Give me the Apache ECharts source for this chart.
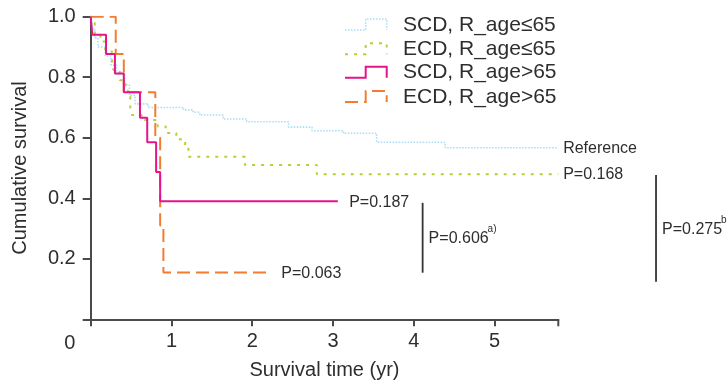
<!DOCTYPE html>
<html>
<head>
<meta charset="utf-8">
<script src="https://cdn.jsdelivr.net/npm/echarts@6/dist/echarts.min.js"></script>
<style>
html,body{margin:0;padding:0;background:#fff;}
#chart{width:728px;height:387px;}
</style>
</head>
<body>
<div id="chart"></div>
<script>
// ---- Data ----
const seriesNames = ['SCD, R_age\u226465', 'ECD, R_age\u226465', 'SCD, R_age>65', 'ECD, R_age>65'];

const scdYoungT = [0, 0.02, 0.05, 0.09, 0.18, 0.25, 0.32, 0.42, 0.48, 0.55, 0.71, 1.15, 1.27, 1.35, 1.64, 1.93, 2.45, 2.74, 3.13, 3.54, 4.39, 5.78];
const scdYoungS = [1.0, 0.96, 0.93, 0.90, 0.87, 0.84, 0.81, 0.775, 0.74, 0.712, 0.70, 0.692, 0.684, 0.675, 0.662, 0.653, 0.635, 0.623, 0.615, 0.585, 0.567, 0.567];

const ecdYoungT = [0, 0.01, 0.05, 0.12, 0.18, 0.26, 0.28, 0.36, 0.43, 0.46, 0.49, 0.51, 0.63, 0.83, 0.93, 1.06, 1.17, 1.21, 1.91, 2.80, 5.79];
const ecdYoungS = [1.0, 0.98, 0.94, 0.918, 0.89, 0.864, 0.824, 0.79, 0.768, 0.736, 0.698, 0.675, 0.659, 0.637, 0.616, 0.595, 0.576, 0.537, 0.51, 0.479, 0.479];

const scdOldT = [0, 0.02, 0.19, 0.30, 0.41, 0.61, 0.70, 0.81, 0.86, 3.06];
const scdOldS = [1.0, 0.94, 0.877, 0.812, 0.75, 0.666, 0.585, 0.487, 0.39, 0.39];

const ecdOldT = [0, 0.31, 0.41, 0.80, 0.86, 0.90, 2.21];
const ecdOldS = [1.0, 0.877, 0.75, 0.60, 0.31, 0.155, 0.155];

const xTicks = [0, 1, 2, 3, 4, 5];
const yTicks = [0, 0.2, 0.4, 0.6, 0.8, 1.0];
const xMax = 5.79;

// annotation texts with anchor in data coordinates
const endLabels = [
  {text: 'Reference', x: 5.85, y: 0.565},
  {text: 'P=0.168', x: 5.85, y: 0.477},
  {text: 'P=0.187', x: 3.20, y: 0.385},
  {text: 'P=0.063', x: 2.36, y: 0.15}
];
const bracketLabels = [
  {text: 'P=0.606', sup: 'a)', x: 4.11, y1: 0.385, y2: 0.154, ty: 0.268},
  {text: 'P=0.275', sup: 'b', x: 7.0, y1: 0.477, y2: 0.124, ty: 0.298}
];

// ---- Styles ----
const colors = ['#a9dcf6', '#b3d236', '#e6138a', '#f27d30'];
const dashes = [[1.5, 1.5], [3, 6], 'solid', [13, 6]];
const widths = [1.6, 2, 2, 2];
const FONT = '"Liberation Sans", Arial, Helvetica, sans-serif';
const TXT = '#2e2e2e';
const AX = '#4a4a4a';

function pairs(t, s) { return t.map((v, i) => [v, s[i]]); }
const allData = [pairs(scdYoungT, scdYoungS), pairs(ecdYoungT, ecdYoungS), pairs(scdOldT, scdOldS), pairs(ecdOldT, ecdOldS)];

const chart = echarts.init(document.getElementById('chart'), null, {renderer: 'canvas'});

const option = {
  animation: false,
  backgroundColor: '#fff',
  grid: {left: 90.7, right: 169.7, top: 16.7, bottom: 67.7, containLabel: false},
  xAxis: {
    type: 'value', min: 0, max: xMax, interval: 1,
    name: 'Survival time (yr)', nameLocation: 'middle', nameGap: 41,
    nameTextStyle: {fontFamily: FONT, fontSize: 20, color: TXT},
    axisLine: {show: true, lineStyle: {color: AX, width: 2}},
    axisTick: {show: true, length: 7, lineStyle: {color: AX, width: 2}},
    axisLabel: {
      fontFamily: FONT, fontSize: 20, color: TXT, margin: 12,
      showMaxLabel: false,
      formatter: v => (xTicks.indexOf(v) > 0 ? String(v) : '')
    },
    splitLine: {show: false}
  },
  yAxis: {
    type: 'value', min: 0, max: 1, interval: 0.2,
    name: 'Cumulative survival', nameLocation: 'middle', nameGap: 60,
    nameTextStyle: {fontFamily: FONT, fontSize: 20, color: TXT},
    axisLine: {show: true, lineStyle: {color: AX, width: 2}},
    axisTick: {show: true, length: 8, lineStyle: {color: AX, width: 2}},
    axisLabel: {
      fontFamily: FONT, fontSize: 20, color: TXT, margin: 15,
      formatter: v => (v > 0 && yTicks.some(t => Math.abs(t - v) < 1e-9) ? v.toFixed(1) : '')
    },
    splitLine: {show: false}
  },
  series: allData.map((d, i) => ({
    name: seriesNames[i],
    type: 'line',
    step: 'end',
    data: d,
    showSymbol: false,
    symbol: 'none',
    lineStyle: {color: colors[i], width: widths[i], type: dashes[i]},
    z: [2, 3, 5, 4][i]
  }))
};
chart.setOption(option);

// ---- Annotations & legend ----
const g = [];
const P = (x, y) => chart.convertToPixel({gridIndex: 0}, [x, y]);

// origin "0"
const o = P(0, 0);
g.push({type: 'text', x: o[0] - 21, y: o[1] + 24, style: {text: '0', font: '20px ' + FONT, fill: TXT, textAlign: 'center', textVerticalAlign: 'middle'}});

// end-of-axis tick
const e = P(xMax, 0);
g.push({type: 'line', shape: {x1: e[0], y1: e[1], x2: e[0], y2: e[1] + 7}, style: {stroke: AX, lineWidth: 2}});

endLabels.forEach(l => {
  const p = P(l.x, l.y);
  g.push({type: 'text', x: p[0], y: p[1], style: {text: l.text, font: '16px ' + FONT, fill: TXT, textAlign: 'left', textVerticalAlign: 'middle'}});
});
bracketLabels.forEach(b => {
  const a = P(b.x, b.y1), c = P(b.x, b.y2), t = P(b.x, b.ty);
  g.push({type: 'line', shape: {x1: a[0], y1: a[1], x2: c[0], y2: c[1]}, style: {stroke: '#333', lineWidth: 1.8}});
  g.push({type: 'text', x: t[0] + 6, y: t[1], style: {text: b.text, font: '16px ' + FONT, fill: TXT, textAlign: 'left', textVerticalAlign: 'middle'}});
  g.push({type: 'text', x: t[0] + 6 + 59, y: t[1] - 9, style: {text: b.sup, font: '10px ' + FONT, fill: TXT, textAlign: 'left', textVerticalAlign: 'middle'}});
});

// legend (step-shaped samples)
const legX0 = 345, legXm = 365.7, legX1 = 386.7, legTextX = 403;
const legTop = [19, 43.3, 66.7, 91];
const legH = 11;
seriesNames.forEach((n, i) => {
  const top = legTop[i], bot = top + legH;
  g.push({type: 'polyline', shape: {points: [[legX0, bot], [legXm, bot], [legXm, top], [legX1, top], [legX1, bot]]},
    style: {stroke: colors[i], lineWidth: widths[i], lineDash: dashes[i] === 'solid' ? null : dashes[i], fill: null}});
  g.push({type: 'text', x: legTextX, y: (top + bot) / 2 + 0.5, style: {text: n, font: '21px ' + FONT, fill: TXT, textAlign: 'left', textVerticalAlign: 'middle'}});
});

chart.setOption({graphic: g});
</script>
</body>
</html>
